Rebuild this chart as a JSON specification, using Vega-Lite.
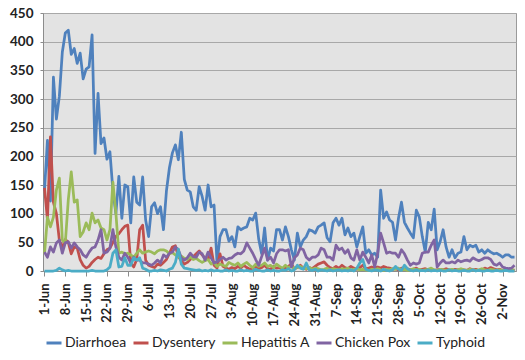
{
"$schema":"https://vega.github.io/schema/vega-lite/v6.json",
"width":473,"height":258,
"autosize":{"type":"none"},
"padding":{"left":43,"top":13,"right":9,"bottom":89},
"background":"white",
"data":{"values":[
{"date":"1-Jun","Diarrhoea":140,"Dysentery":145,"Hepatitis A":30,"Chicken Pox":33,"Typhoid":0},
{"date":"2-Jun","Diarrhoea":228,"Dysentery":90,"Hepatitis A":94,"Chicken Pox":24,"Typhoid":0},
{"date":"3-Jun","Diarrhoea":122,"Dysentery":234,"Hepatitis A":77,"Chicken Pox":42,"Typhoid":0},
{"date":"4-Jun","Diarrhoea":338,"Dysentery":120,"Hepatitis A":94,"Chicken Pox":33,"Typhoid":0},
{"date":"5-Jun","Diarrhoea":265,"Dysentery":100,"Hepatitis A":141,"Chicken Pox":49,"Typhoid":1},
{"date":"6-Jun","Diarrhoea":305,"Dysentery":54,"Hepatitis A":162,"Chicken Pox":54,"Typhoid":5},
{"date":"7-Jun","Diarrhoea":382,"Dysentery":40,"Hepatitis A":54,"Chicken Pox":31,"Typhoid":2},
{"date":"8-Jun","Diarrhoea":415,"Dysentery":55,"Hepatitis A":49,"Chicken Pox":49,"Typhoid":0},
{"date":"9-Jun","Diarrhoea":420,"Dysentery":50,"Hepatitis A":124,"Chicken Pox":51,"Typhoid":1},
{"date":"10-Jun","Diarrhoea":378,"Dysentery":30,"Hepatitis A":173,"Chicken Pox":40,"Typhoid":0},
{"date":"11-Jun","Diarrhoea":388,"Dysentery":42,"Hepatitis A":120,"Chicken Pox":49,"Typhoid":0},
{"date":"12-Jun","Diarrhoea":362,"Dysentery":40,"Hepatitis A":124,"Chicken Pox":42,"Typhoid":0},
{"date":"13-Jun","Diarrhoea":380,"Dysentery":20,"Hepatitis A":60,"Chicken Pox":37,"Typhoid":0},
{"date":"14-Jun","Diarrhoea":335,"Dysentery":10,"Hepatitis A":68,"Chicken Pox":28,"Typhoid":0},
{"date":"15-Jun","Diarrhoea":352,"Dysentery":5,"Hepatitis A":84,"Chicken Pox":24,"Typhoid":0},
{"date":"16-Jun","Diarrhoea":356,"Dysentery":8,"Hepatitis A":72,"Chicken Pox":33,"Typhoid":0},
{"date":"17-Jun","Diarrhoea":412,"Dysentery":15,"Hepatitis A":101,"Chicken Pox":40,"Typhoid":1},
{"date":"18-Jun","Diarrhoea":205,"Dysentery":20,"Hepatitis A":84,"Chicken Pox":42,"Typhoid":0},
{"date":"19-Jun","Diarrhoea":310,"Dysentery":24,"Hepatitis A":89,"Chicken Pox":54,"Typhoid":0},
{"date":"20-Jun","Diarrhoea":222,"Dysentery":22,"Hepatitis A":75,"Chicken Pox":72,"Typhoid":0},
{"date":"21-Jun","Diarrhoea":232,"Dysentery":30,"Hepatitis A":72,"Chicken Pox":31,"Typhoid":0},
{"date":"22-Jun","Diarrhoea":195,"Dysentery":37,"Hepatitis A":54,"Chicken Pox":33,"Typhoid":2},
{"date":"23-Jun","Diarrhoea":208,"Dysentery":40,"Hepatitis A":72,"Chicken Pox":40,"Typhoid":7},
{"date":"24-Jun","Diarrhoea":140,"Dysentery":50,"Hepatitis A":155,"Chicken Pox":72,"Typhoid":31},
{"date":"25-Jun","Diarrhoea":100,"Dysentery":60,"Hepatitis A":101,"Chicken Pox":42,"Typhoid":37},
{"date":"26-Jun","Diarrhoea":165,"Dysentery":65,"Hepatitis A":31,"Chicken Pox":24,"Typhoid":7},
{"date":"27-Jun","Diarrhoea":92,"Dysentery":72,"Hepatitis A":33,"Chicken Pox":19,"Typhoid":8},
{"date":"28-Jun","Diarrhoea":150,"Dysentery":78,"Hepatitis A":30,"Chicken Pox":31,"Typhoid":23},
{"date":"29-Jun","Diarrhoea":147,"Dysentery":80,"Hepatitis A":31,"Chicken Pox":24,"Typhoid":10},
{"date":"30-Jun","Diarrhoea":84,"Dysentery":14,"Hepatitis A":28,"Chicken Pox":14,"Typhoid":10},
{"date":"1-Jul","Diarrhoea":164,"Dysentery":7,"Hepatitis A":24,"Chicken Pox":24,"Typhoid":23},
{"date":"2-Jul","Diarrhoea":120,"Dysentery":20,"Hepatitis A":31,"Chicken Pox":19,"Typhoid":19},
{"date":"3-Jul","Diarrhoea":115,"Dysentery":72,"Hepatitis A":37,"Chicken Pox":19,"Typhoid":23},
{"date":"4-Jul","Diarrhoea":164,"Dysentery":80,"Hepatitis A":31,"Chicken Pox":14,"Typhoid":5},
{"date":"5-Jul","Diarrhoea":89,"Dysentery":19,"Hepatitis A":33,"Chicken Pox":14,"Typhoid":3},
{"date":"6-Jul","Diarrhoea":60,"Dysentery":10,"Hepatitis A":35,"Chicken Pox":12,"Typhoid":0},
{"date":"7-Jul","Diarrhoea":112,"Dysentery":8,"Hepatitis A":33,"Chicken Pox":10,"Typhoid":0},
{"date":"8-Jul","Diarrhoea":119,"Dysentery":6,"Hepatitis A":30,"Chicken Pox":14,"Typhoid":1},
{"date":"9-Jul","Diarrhoea":100,"Dysentery":12,"Hepatitis A":35,"Chicken Pox":19,"Typhoid":0},
{"date":"10-Jul","Diarrhoea":112,"Dysentery":10,"Hepatitis A":37,"Chicken Pox":14,"Typhoid":2},
{"date":"11-Jul","Diarrhoea":72,"Dysentery":15,"Hepatitis A":37,"Chicken Pox":28,"Typhoid":1},
{"date":"12-Jul","Diarrhoea":140,"Dysentery":20,"Hepatitis A":35,"Chicken Pox":24,"Typhoid":0},
{"date":"13-Jul","Diarrhoea":180,"Dysentery":31,"Hepatitis A":30,"Chicken Pox":31,"Typhoid":3},
{"date":"14-Jul","Diarrhoea":206,"Dysentery":42,"Hepatitis A":32,"Chicken Pox":33,"Typhoid":5},
{"date":"15-Jul","Diarrhoea":220,"Dysentery":44,"Hepatitis A":28,"Chicken Pox":42,"Typhoid":15},
{"date":"16-Jul","Diarrhoea":194,"Dysentery":25,"Hepatitis A":24,"Chicken Pox":37,"Typhoid":38},
{"date":"17-Jul","Diarrhoea":242,"Dysentery":18,"Hepatitis A":26,"Chicken Pox":23,"Typhoid":12},
{"date":"18-Jul","Diarrhoea":160,"Dysentery":12,"Hepatitis A":22,"Chicken Pox":19,"Typhoid":5},
{"date":"19-Jul","Diarrhoea":141,"Dysentery":15,"Hepatitis A":20,"Chicken Pox":23,"Typhoid":4},
{"date":"20-Jul","Diarrhoea":138,"Dysentery":20,"Hepatitis A":25,"Chicken Pox":31,"Typhoid":3},
{"date":"21-Jul","Diarrhoea":112,"Dysentery":25,"Hepatitis A":20,"Chicken Pox":25,"Typhoid":2},
{"date":"22-Jul","Diarrhoea":106,"Dysentery":30,"Hepatitis A":22,"Chicken Pox":24,"Typhoid":1},
{"date":"23-Jul","Diarrhoea":147,"Dysentery":35,"Hepatitis A":18,"Chicken Pox":33,"Typhoid":2},
{"date":"24-Jul","Diarrhoea":130,"Dysentery":28,"Hepatitis A":15,"Chicken Pox":30,"Typhoid":0},
{"date":"25-Jul","Diarrhoea":106,"Dysentery":22,"Hepatitis A":18,"Chicken Pox":19,"Typhoid":1},
{"date":"26-Jul","Diarrhoea":150,"Dysentery":20,"Hepatitis A":20,"Chicken Pox":33,"Typhoid":0},
{"date":"27-Jul","Diarrhoea":112,"Dysentery":40,"Hepatitis A":12,"Chicken Pox":23,"Typhoid":2},
{"date":"28-Jul","Diarrhoea":115,"Dysentery":10,"Hepatitis A":15,"Chicken Pox":14,"Typhoid":0},
{"date":"29-Jul","Diarrhoea":14,"Dysentery":5,"Hepatitis A":8,"Chicken Pox":16,"Typhoid":1},
{"date":"30-Jul","Diarrhoea":60,"Dysentery":30,"Hepatitis A":12,"Chicken Pox":20,"Typhoid":0},
{"date":"31-Jul","Diarrhoea":72,"Dysentery":8,"Hepatitis A":10,"Chicken Pox":24,"Typhoid":0},
{"date":"1-Aug","Diarrhoea":72,"Dysentery":5,"Hepatitis A":8,"Chicken Pox":19,"Typhoid":2},
{"date":"2-Aug","Diarrhoea":52,"Dysentery":3,"Hepatitis A":15,"Chicken Pox":22,"Typhoid":0},
{"date":"3-Aug","Diarrhoea":60,"Dysentery":6,"Hepatitis A":12,"Chicken Pox":23,"Typhoid":1},
{"date":"4-Aug","Diarrhoea":42,"Dysentery":4,"Hepatitis A":10,"Chicken Pox":28,"Typhoid":0},
{"date":"5-Aug","Diarrhoea":77,"Dysentery":8,"Hepatitis A":14,"Chicken Pox":31,"Typhoid":0},
{"date":"6-Aug","Diarrhoea":72,"Dysentery":5,"Hepatitis A":8,"Chicken Pox":30,"Typhoid":2},
{"date":"7-Aug","Diarrhoea":75,"Dysentery":10,"Hepatitis A":12,"Chicken Pox":35,"Typhoid":0},
{"date":"8-Aug","Diarrhoea":77,"Dysentery":6,"Hepatitis A":15,"Chicken Pox":49,"Typhoid":1},
{"date":"9-Aug","Diarrhoea":92,"Dysentery":3,"Hepatitis A":10,"Chicken Pox":40,"Typhoid":0},
{"date":"10-Aug","Diarrhoea":89,"Dysentery":5,"Hepatitis A":6,"Chicken Pox":31,"Typhoid":0},
{"date":"11-Aug","Diarrhoea":101,"Dysentery":8,"Hepatitis A":12,"Chicken Pox":20,"Typhoid":3},
{"date":"12-Aug","Diarrhoea":56,"Dysentery":4,"Hepatitis A":8,"Chicken Pox":10,"Typhoid":1},
{"date":"13-Aug","Diarrhoea":30,"Dysentery":6,"Hepatitis A":10,"Chicken Pox":25,"Typhoid":0},
{"date":"14-Aug","Diarrhoea":75,"Dysentery":10,"Hepatitis A":14,"Chicken Pox":40,"Typhoid":0},
{"date":"15-Aug","Diarrhoea":19,"Dysentery":4,"Hepatitis A":8,"Chicken Pox":19,"Typhoid":2},
{"date":"16-Aug","Diarrhoea":40,"Dysentery":3,"Hepatitis A":10,"Chicken Pox":24,"Typhoid":0},
{"date":"17-Aug","Diarrhoea":35,"Dysentery":8,"Hepatitis A":6,"Chicken Pox":14,"Typhoid":1},
{"date":"18-Aug","Diarrhoea":72,"Dysentery":5,"Hepatitis A":12,"Chicken Pox":30,"Typhoid":0},
{"date":"19-Aug","Diarrhoea":72,"Dysentery":6,"Hepatitis A":8,"Chicken Pox":37,"Typhoid":0},
{"date":"20-Aug","Diarrhoea":54,"Dysentery":3,"Hepatitis A":5,"Chicken Pox":37,"Typhoid":2},
{"date":"21-Aug","Diarrhoea":77,"Dysentery":5,"Hepatitis A":10,"Chicken Pox":35,"Typhoid":1},
{"date":"22-Aug","Diarrhoea":60,"Dysentery":8,"Hepatitis A":6,"Chicken Pox":37,"Typhoid":4},
{"date":"23-Aug","Diarrhoea":37,"Dysentery":12,"Hepatitis A":8,"Chicken Pox":7,"Typhoid":0},
{"date":"24-Aug","Diarrhoea":19,"Dysentery":4,"Hepatitis A":4,"Chicken Pox":23,"Typhoid":2},
{"date":"25-Aug","Diarrhoea":66,"Dysentery":6,"Hepatitis A":6,"Chicken Pox":28,"Typhoid":10},
{"date":"26-Aug","Diarrhoea":42,"Dysentery":10,"Hepatitis A":8,"Chicken Pox":40,"Typhoid":5},
{"date":"27-Aug","Diarrhoea":54,"Dysentery":5,"Hepatitis A":5,"Chicken Pox":37,"Typhoid":3},
{"date":"28-Aug","Diarrhoea":60,"Dysentery":3,"Hepatitis A":4,"Chicken Pox":24,"Typhoid":14},
{"date":"29-Aug","Diarrhoea":72,"Dysentery":6,"Hepatitis A":6,"Chicken Pox":19,"Typhoid":2},
{"date":"30-Aug","Diarrhoea":70,"Dysentery":4,"Hepatitis A":3,"Chicken Pox":24,"Typhoid":1},
{"date":"31-Aug","Diarrhoea":66,"Dysentery":8,"Hepatitis A":5,"Chicken Pox":24,"Typhoid":3},
{"date":"1-Sep","Diarrhoea":77,"Dysentery":12,"Hepatitis A":4,"Chicken Pox":28,"Typhoid":0},
{"date":"2-Sep","Diarrhoea":80,"Dysentery":14,"Hepatitis A":2,"Chicken Pox":40,"Typhoid":2},
{"date":"3-Sep","Diarrhoea":84,"Dysentery":16,"Hepatitis A":3,"Chicken Pox":37,"Typhoid":1},
{"date":"4-Sep","Diarrhoea":58,"Dysentery":10,"Hepatitis A":5,"Chicken Pox":24,"Typhoid":0},
{"date":"5-Sep","Diarrhoea":51,"Dysentery":6,"Hepatitis A":2,"Chicken Pox":24,"Typhoid":2},
{"date":"6-Sep","Diarrhoea":84,"Dysentery":4,"Hepatitis A":4,"Chicken Pox":19,"Typhoid":0},
{"date":"7-Sep","Diarrhoea":92,"Dysentery":8,"Hepatitis A":3,"Chicken Pox":45,"Typhoid":1},
{"date":"8-Sep","Diarrhoea":80,"Dysentery":5,"Hepatitis A":2,"Chicken Pox":37,"Typhoid":2},
{"date":"9-Sep","Diarrhoea":92,"Dysentery":10,"Hepatitis A":4,"Chicken Pox":40,"Typhoid":0},
{"date":"10-Sep","Diarrhoea":63,"Dysentery":6,"Hepatitis A":3,"Chicken Pox":31,"Typhoid":1},
{"date":"11-Sep","Diarrhoea":75,"Dysentery":4,"Hepatitis A":5,"Chicken Pox":37,"Typhoid":0},
{"date":"12-Sep","Diarrhoea":60,"Dysentery":8,"Hepatitis A":2,"Chicken Pox":23,"Typhoid":2},
{"date":"13-Sep","Diarrhoea":66,"Dysentery":5,"Hepatitis A":3,"Chicken Pox":19,"Typhoid":0},
{"date":"14-Sep","Diarrhoea":42,"Dysentery":3,"Hepatitis A":4,"Chicken Pox":37,"Typhoid":5},
{"date":"15-Sep","Diarrhoea":60,"Dysentery":6,"Hepatitis A":2,"Chicken Pox":19,"Typhoid":14},
{"date":"16-Sep","Diarrhoea":77,"Dysentery":10,"Hepatitis A":3,"Chicken Pox":33,"Typhoid":20},
{"date":"17-Sep","Diarrhoea":31,"Dysentery":4,"Hepatitis A":2,"Chicken Pox":24,"Typhoid":3},
{"date":"18-Sep","Diarrhoea":37,"Dysentery":5,"Hepatitis A":1,"Chicken Pox":14,"Typhoid":1},
{"date":"19-Sep","Diarrhoea":28,"Dysentery":7,"Hepatitis A":3,"Chicken Pox":28,"Typhoid":0},
{"date":"20-Sep","Diarrhoea":31,"Dysentery":6,"Hepatitis A":2,"Chicken Pox":7,"Typhoid":2},
{"date":"21-Sep","Diarrhoea":24,"Dysentery":7,"Hepatitis A":4,"Chicken Pox":31,"Typhoid":1},
{"date":"22-Sep","Diarrhoea":141,"Dysentery":5,"Hepatitis A":2,"Chicken Pox":66,"Typhoid":0},
{"date":"23-Sep","Diarrhoea":92,"Dysentery":8,"Hepatitis A":1,"Chicken Pox":49,"Typhoid":3},
{"date":"24-Sep","Diarrhoea":103,"Dysentery":6,"Hepatitis A":3,"Chicken Pox":31,"Typhoid":1},
{"date":"25-Sep","Diarrhoea":89,"Dysentery":5,"Hepatitis A":2,"Chicken Pox":33,"Typhoid":0},
{"date":"26-Sep","Diarrhoea":85,"Dysentery":3,"Hepatitis A":4,"Chicken Pox":31,"Typhoid":2},
{"date":"27-Sep","Diarrhoea":54,"Dysentery":4,"Hepatitis A":3,"Chicken Pox":31,"Typhoid":8},
{"date":"28-Sep","Diarrhoea":92,"Dysentery":2,"Hepatitis A":5,"Chicken Pox":24,"Typhoid":3},
{"date":"29-Sep","Diarrhoea":120,"Dysentery":5,"Hepatitis A":2,"Chicken Pox":37,"Typhoid":1},
{"date":"30-Sep","Diarrhoea":85,"Dysentery":3,"Hepatitis A":3,"Chicken Pox":30,"Typhoid":10},
{"date":"1-Oct","Diarrhoea":75,"Dysentery":4,"Hepatitis A":1,"Chicken Pox":19,"Typhoid":4},
{"date":"2-Oct","Diarrhoea":66,"Dysentery":2,"Hepatitis A":2,"Chicken Pox":10,"Typhoid":1},
{"date":"3-Oct","Diarrhoea":58,"Dysentery":3,"Hepatitis A":4,"Chicken Pox":14,"Typhoid":0},
{"date":"4-Oct","Diarrhoea":106,"Dysentery":5,"Hepatitis A":2,"Chicken Pox":12,"Typhoid":2},
{"date":"5-Oct","Diarrhoea":94,"Dysentery":2,"Hepatitis A":3,"Chicken Pox":14,"Typhoid":0},
{"date":"6-Oct","Diarrhoea":60,"Dysentery":3,"Hepatitis A":1,"Chicken Pox":31,"Typhoid":1},
{"date":"7-Oct","Diarrhoea":33,"Dysentery":4,"Hepatitis A":2,"Chicken Pox":33,"Typhoid":0},
{"date":"8-Oct","Diarrhoea":85,"Dysentery":2,"Hepatitis A":3,"Chicken Pox":33,"Typhoid":2},
{"date":"9-Oct","Diarrhoea":72,"Dysentery":3,"Hepatitis A":5,"Chicken Pox":45,"Typhoid":0},
{"date":"10-Oct","Diarrhoea":108,"Dysentery":1,"Hepatitis A":2,"Chicken Pox":54,"Typhoid":1},
{"date":"11-Oct","Diarrhoea":37,"Dysentery":2,"Hepatitis A":1,"Chicken Pox":7,"Typhoid":0},
{"date":"12-Oct","Diarrhoea":51,"Dysentery":3,"Hepatitis A":3,"Chicken Pox":14,"Typhoid":1},
{"date":"13-Oct","Diarrhoea":72,"Dysentery":2,"Hepatitis A":2,"Chicken Pox":19,"Typhoid":0},
{"date":"14-Oct","Diarrhoea":42,"Dysentery":4,"Hepatitis A":1,"Chicken Pox":14,"Typhoid":0},
{"date":"15-Oct","Diarrhoea":24,"Dysentery":2,"Hepatitis A":2,"Chicken Pox":14,"Typhoid":2},
{"date":"16-Oct","Diarrhoea":37,"Dysentery":1,"Hepatitis A":3,"Chicken Pox":16,"Typhoid":0},
{"date":"17-Oct","Diarrhoea":23,"Dysentery":3,"Hepatitis A":1,"Chicken Pox":14,"Typhoid":1},
{"date":"18-Oct","Diarrhoea":31,"Dysentery":2,"Hepatitis A":2,"Chicken Pox":19,"Typhoid":0},
{"date":"19-Oct","Diarrhoea":33,"Dysentery":3,"Hepatitis A":4,"Chicken Pox":16,"Typhoid":0},
{"date":"20-Oct","Diarrhoea":60,"Dysentery":2,"Hepatitis A":2,"Chicken Pox":18,"Typhoid":1},
{"date":"21-Oct","Diarrhoea":37,"Dysentery":1,"Hepatitis A":1,"Chicken Pox":19,"Typhoid":0},
{"date":"22-Oct","Diarrhoea":45,"Dysentery":4,"Hepatitis A":3,"Chicken Pox":17,"Typhoid":0},
{"date":"23-Oct","Diarrhoea":42,"Dysentery":2,"Hepatitis A":2,"Chicken Pox":23,"Typhoid":2},
{"date":"24-Oct","Diarrhoea":45,"Dysentery":3,"Hepatitis A":1,"Chicken Pox":20,"Typhoid":0},
{"date":"25-Oct","Diarrhoea":33,"Dysentery":1,"Hepatitis A":2,"Chicken Pox":18,"Typhoid":1},
{"date":"26-Oct","Diarrhoea":37,"Dysentery":2,"Hepatitis A":4,"Chicken Pox":20,"Typhoid":0},
{"date":"27-Oct","Diarrhoea":31,"Dysentery":5,"Hepatitis A":2,"Chicken Pox":23,"Typhoid":0},
{"date":"28-Oct","Diarrhoea":37,"Dysentery":3,"Hepatitis A":1,"Chicken Pox":23,"Typhoid":1},
{"date":"29-Oct","Diarrhoea":33,"Dysentery":6,"Hepatitis A":3,"Chicken Pox":20,"Typhoid":0},
{"date":"30-Oct","Diarrhoea":30,"Dysentery":4,"Hepatitis A":2,"Chicken Pox":12,"Typhoid":0},
{"date":"31-Oct","Diarrhoea":31,"Dysentery":2,"Hepatitis A":1,"Chicken Pox":10,"Typhoid":1},
{"date":"1-Nov","Diarrhoea":28,"Dysentery":3,"Hepatitis A":2,"Chicken Pox":14,"Typhoid":0},
{"date":"2-Nov","Diarrhoea":24,"Dysentery":1,"Hepatitis A":1,"Chicken Pox":7,"Typhoid":0},
{"date":"3-Nov","Diarrhoea":28,"Dysentery":2,"Hepatitis A":3,"Chicken Pox":5,"Typhoid":1},
{"date":"4-Nov","Diarrhoea":28,"Dysentery":3,"Hepatitis A":2,"Chicken Pox":4,"Typhoid":0},
{"date":"5-Nov","Diarrhoea":24,"Dysentery":2,"Hepatitis A":1,"Chicken Pox":5,"Typhoid":0},
{"date":"6-Nov","Diarrhoea":24,"Dysentery":1,"Hepatitis A":2,"Chicken Pox":10,"Typhoid":0}
]},
"transform":[{"fold":["Diarrhoea","Dysentery","Hepatitis A","Chicken Pox","Typhoid"],"as":["disease","cases"]}],
"mark":{"type":"line","strokeWidth":2.75,"strokeJoin":"round"},
"encoding":{
"x":{"field":"date","type":"ordinal","sort":null,"scale":{"type":"point","padding":0.5},
"axis":{"title":null,"values":["1-Jun","8-Jun","15-Jun","22-Jun","29-Jun","6-Jul","13-Jul","20-Jul","27-Jul","3-Aug","10-Aug","17-Aug","24-Aug","31-Aug","7-Sep","14-Sep","21-Sep","28-Sep","5-Oct","12-Oct","19-Oct","26-Oct","2-Nov"],
"labelAngle":-90,"labelFont":"Lato","labelFontSize":13,"labelFontWeight":"bold","labelColor":"#222222","tickSize":5,"tickColor":"#8c8c8c","domainColor":"#8c8c8c","labelPadding":7,"grid":false}},
"y":{"field":"cases","type":"quantitative","scale":{"domain":[0,450],"nice":false},
"axis":{"title":null,"values":[0,50,100,150,200,250,300,350,400,450],"grid":true,"gridColor":"#a8a8a8","gridWidth":1,"labelFont":"Lato","labelFontSize":13.5,"labelFontWeight":"bold","labelColor":"#222222","tickSize":3,"tickColor":"#8c8c8c","domainColor":"#8c8c8c","labelPadding":7}},
"color":{"field":"disease","type":"nominal","scale":{"domain":["Diarrhoea","Dysentery","Hepatitis A","Chicken Pox","Typhoid"],"range":["#4F81BD","#C0504D","#9BBB59","#8064A2","#4BACC6"]},
"legend":{"title":null,"orient":"none","legendX":2,"legendY":321,"direction":"horizontal","gridAlign":"each","symbolType":"stroke","symbolSize":225,"symbolStrokeWidth":3,"labelFont":"Lato","labelFontSize":14,"labelColor":"#222222","columnPadding":0,"labelOffset":2}}
},
"config":{"view":{"fill":"#e3e3e3","stroke":"#9a9a9a","strokeWidth":1}}
}
